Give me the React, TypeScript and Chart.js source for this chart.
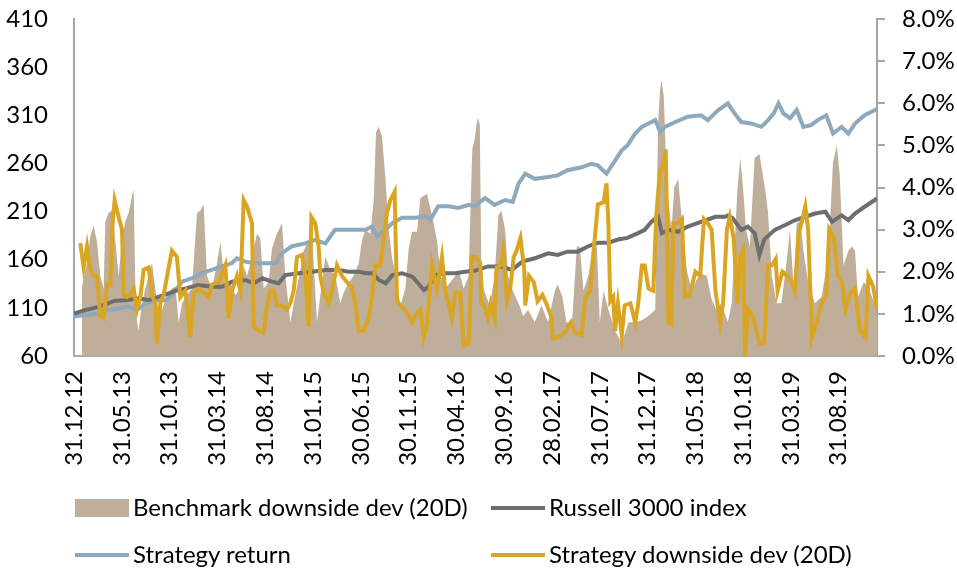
import React, { useEffect, useRef } from "react";
import { Chart, registerables } from "chart.js";

Chart.register(...registerables);

// x-axis tick labels, one every 5 months starting 31.12.2012
const tickLabels = [
  "31.12.12", "31.05.13", "31.10.13", "31.03.14", "31.08.14", "31.01.15",
  "30.06.15", "30.11.15", "30.04.16", "30.09.16", "28.02.17", "31.07.17",
  "31.12.17", "31.05.18", "31.10.18", "31.03.19", "31.08.19",
];

// [months since 31.12.2012, index level]
const russell3000: [number, number][] = [
  [0, 104], [1.2, 107.8], [2.6, 111], [3.6, 114.8], [4.3, 117.5], [5.4, 118], [6.8, 120], [7.8, 118],
  [8.9, 121.7], [9.9, 125], [10.9, 128.5], [11.6, 130], [13.0, 133.8], [14.4, 132], [15.5, 132],
  [16.5, 137.2], [17.9, 139], [18.8, 135.5], [19.7, 140.7], [20.7, 137.2], [21.4, 135.5], [22.1, 144],
  [23.5, 146], [24.9, 147.6], [26.3, 149.4], [27.7, 149.4], [28.7, 147.6], [29.8, 147.6], [30.5, 146],
  [31.2, 146], [31.9, 139], [32.6, 135.5], [33.3, 144], [34.3, 146], [35.4, 142.4], [36.0, 135.5],
  [36.6, 128.5], [37.1, 132], [37.8, 144], [38.8, 146], [39.9, 146], [40.9, 147.6], [41.9, 148.5],
  [43.3, 153], [44.7, 153], [45.8, 149.4], [46.9, 158], [48.2, 161.5], [49.6, 166.7], [50.6, 165],
  [51.6, 168.4], [52.7, 168.4], [53.8, 174], [54.8, 177.5], [55.9, 177.5], [56.9, 181], [57.9, 182.7],
  [59.0, 187.6], [59.7, 191], [60.4, 199.4], [61.1, 204.6], [61.5, 187.6], [62.2, 191], [63.2, 189],
  [64.2, 194.4], [65.6, 199.4], [67.1, 204.6], [68.1, 204.6], [68.4, 206], [68.9, 203], [69.8, 191],
  [70.5, 194.4], [71.2, 187.6], [71.7, 165], [72.2, 181], [73.3, 191], [74.4, 196], [75.4, 201],
  [76.5, 204.6], [77.5, 208], [78.6, 209.8], [79.3, 199.4], [80.3, 206], [81.0, 201], [81.7, 208],
  [82.7, 215], [84.0, 223.6],
];

const strategyReturn: [number, number][] = [
  [0, 100.9], [1.2, 102.6], [2.6, 104.4], [3.6, 107.8], [4.7, 109.5], [5.7, 111], [6.6, 107.8],
  [7.5, 114.8], [8.5, 118], [9.6, 118], [10.25, 123.4], [11.3, 137.2], [12.3, 140.7], [13.4, 146],
  [14.4, 149.4], [15.5, 153], [16.5, 156.3], [17.05, 161.5], [17.9, 158], [19.0, 156.3], [20.0, 156.3],
  [21.1, 156.3], [21.8, 167], [22.8, 174], [24.2, 177], [25.2, 180.5], [26.3, 177], [27.3, 191],
  [28.4, 191], [29.4, 191], [30.5, 191], [31.2, 194.5], [31.7, 184], [32.6, 191], [33.3, 198],
  [34.3, 203.5], [35.7, 203.5], [36.8, 205], [37.3, 201.7], [38.1, 215.5], [39.2, 215.5], [40.2, 213.7],
  [41.3, 217], [41.9, 215.5], [43.0, 224], [44.0, 217], [45.1, 222], [45.9, 220], [46.5, 239],
  [47.2, 249.4], [48.2, 244], [49.6, 246], [50.6, 247.6], [51.6, 253], [53.1, 256], [54.1, 259.7],
  [54.8, 258], [55.7, 249.4], [56.6, 263], [57.3, 273.6], [57.9, 278.8], [58.7, 291], [59.4, 298],
  [60.1, 301.5], [60.8, 305], [61.3, 293], [61.8, 298], [62.9, 303], [64.2, 308.5], [65.6, 310],
  [66.3, 305], [67.4, 315.5], [68.4, 322.4], [69.1, 312], [69.8, 303], [70.8, 301.5], [71.9, 298],
  [72.6, 305], [73.2, 312], [73.7, 322.4], [74.2, 312], [74.9, 307], [75.6, 315.5], [76.3, 298],
  [77.1, 299.7], [77.8, 305], [78.7, 310], [79.4, 291], [80.3, 298], [81.0, 291], [81.7, 301.5],
  [82.7, 310], [83.8, 315.5], [84.0, 317],
];

// [months since 31.12.2012, percent]
const benchmarkDownside: [number, number][] = [
  [0.84, 1.65], [1.36, 2.2], [1.71, 2.85], [2.06, 3.1], [2.41, 2.7], [2.75, 1.9], [3.1, 1.6], [3.28, 3.2],
  [3.63, 3.4], [3.97, 3.45], [4.32, 2.75], [4.67, 1.9], [5.02, 2.75], [5.37, 3.2], [5.72, 3.4], [6.07, 3.8],
  [6.24, 3.95], [6.42, 1.6], [6.59, 0.8], [6.76, 0.6], [7.11, 1.25], [7.46, 1.6], [7.81, 1.9], [8.16, 2.2],
  [8.51, 1.6], [8.86, 1.0], [9.21, 1.1], [9.73, 1.45], [10.25, 1.6], [10.6, 1.65], [10.95, 0.8],
  [11.3, 1.25], [11.82, 1.45], [12.34, 1.6], [12.87, 3.4], [13.21, 3.45], [13.56, 3.6], [13.91, 1.9],
  [14.44, 1.6], [14.96, 2.2], [15.31, 2.7], [15.83, 1.6], [16.35, 1.75], [16.88, 1.45], [17.4, 1.6],
  [17.75, 2.15], [18.1, 1.9], [18.62, 2.35], [19.14, 2.9], [19.49, 2.8], [19.84, 1.6], [20.36, 1.75],
  [20.71, 2.55], [21.23, 2.9], [21.76, 3.15], [22.11, 1.9], [22.63, 0.8], [23.15, 1.45], [23.68, 2.05],
  [24.02, 2.5], [24.55, 2.75], [24.9, 2.9], [25.42, 0.8], [25.77, 1.45], [26.29, 2.35], [26.81, 2.05],
  [27.34, 1.9], [27.86, 1.25], [28.21, 1.5], [28.73, 1.75], [29.25, 1.9], [29.78, 2.2], [30.13, 2.75],
  [30.47, 3.0], [31.0, 2.9], [31.35, 3.7], [31.59, 5.3], [31.87, 5.45], [32.22, 5.2], [32.57, 4.25],
  [32.92, 3.0], [33.26, 2.35], [33.79, 1.75], [34.14, 1.2], [34.66, 1.6], [35.01, 2.55], [35.36, 2.95],
  [35.88, 2.95], [36.23, 3.75], [36.58, 3.8], [36.92, 3.85], [37.27, 3.5], [37.62, 3.15], [37.97, 2.75],
  [38.32, 1.95], [38.84, 1.6], [39.37, 1.75], [39.89, 1.9], [40.24, 2.05], [40.76, 1.6], [41.28, 1.9],
  [41.66, 4.9], [41.95, 5.2], [42.2, 5.65], [42.45, 5.5], [42.6, 2.3], [42.9, 1.55], [43.5, 1.2],
  [44.0, 1.9], [44.4, 3.35], [44.7, 3.45], [45.1, 3.0], [45.4, 1.9], [45.9, 1.55], [46.5, 1.25],
  [47.0, 0.95], [47.5, 1.1], [48.2, 0.8], [48.9, 1.2], [49.6, 0.8], [50.3, 1.55], [50.6, 1.7],
  [51.1, 1.4], [51.5, 0.8], [52.1, 0.8], [52.6, 2.6], [52.9, 2.6], [53.3, 1.55], [53.8, 1.9],
  [54.3, 2.5], [54.7, 2.6], [55.0, 0.8], [55.4, 1.55], [55.9, 1.1], [56.6, 0.6], [57.3, 0.3],
  [58.0, 0.8], [58.7, 0.8], [59.4, 0.85], [60.1, 0.95], [60.8, 1.1], [61.1, 5.5], [61.3, 6.3],
  [61.45, 6.55], [61.7, 6.15], [62.0, 4.1], [62.5, 3.0], [62.8, 4.0], [63.2, 4.2], [63.5, 3.45],
  [64.1, 2.05], [64.6, 1.55], [65.1, 1.8], [65.6, 1.95], [66.2, 1.9], [66.7, 1.35], [67.2, 1.1],
  [67.7, 1.25], [68.4, 0.8], [68.8, 1.25], [69.4, 3.95], [69.7, 4.7], [70.0, 3.95], [70.3, 3.0],
  [70.7, 2.6], [71.2, 4.7], [71.7, 4.8], [72.3, 3.95], [72.6, 3.4], [73.0, 1.9], [73.5, 1.25],
  [74.0, 1.25], [74.6, 2.35], [74.9, 3.0], [75.3, 1.55], [75.6, 3.15], [76.0, 3.2], [76.3, 2.5],
  [76.8, 1.75], [77.5, 1.25], [78.2, 1.4], [78.9, 2.35], [79.4, 4.6], [79.8, 5.0], [80.1, 4.3],
  [80.5, 2.15], [81.0, 2.5], [81.4, 2.6], [81.7, 2.5], [82.0, 1.4], [82.6, 1.75], [83.1, 1.65],
  [83.8, 1.2], [84.0, 0.9],
];

const strategyDownside: [number, number][] = [
  [0.66, 2.68], [1.01, 2.1], [1.36, 2.6], [1.71, 2.05], [2.06, 1.9], [2.41, 1.9], [2.75, 0.95], [3.1, 0.9],
  [3.45, 1.7], [3.8, 1.7], [4.04, 3.15], [4.25, 3.7], [4.67, 3.3], [5.02, 3.0], [5.2, 1.45], [5.54, 1.4],
  [5.89, 1.45], [6.24, 1.6], [6.59, 1.1], [6.94, 1.4], [7.29, 2.05], [7.81, 2.1], [8.16, 1.45],
  [8.51, 1.25], [8.68, 0.3], [9.03, 1.25], [9.38, 1.45], [9.9, 2.1], [10.25, 2.5], [10.77, 2.35],
  [11.12, 1.4], [11.65, 1.55], [12.17, 0.45], [12.52, 1.5], [13.04, 1.6], [13.56, 1.5], [14.09, 1.4],
  [14.44, 1.7], [15.13, 1.75], [15.83, 2.15], [16.18, 0.9], [16.53, 1.55], [17.05, 1.9], [17.4, 1.55],
  [17.75, 3.7], [18.1, 3.55], [18.62, 3.15], [18.79, 0.7], [19.32, 0.6], [19.84, 0.55], [20.19, 1.2],
  [20.54, 1.55], [20.89, 1.55], [21.23, 1.2], [21.76, 1.2], [22.28, 1.1], [22.63, 1.25], [22.98, 1.55],
  [23.33, 2.35], [23.85, 2.4], [24.2, 1.9], [24.55, 0.7], [24.83, 3.3], [25.24, 3.15], [25.59, 2.6],
  [25.77, 1.9], [26.12, 1.5], [26.64, 1.25], [26.99, 1.55], [27.51, 2.15], [28.03, 1.9], [28.56, 1.75],
  [29.08, 1.6], [29.43, 1.25], [29.78, 0.6], [30.3, 0.6], [30.82, 0.9], [31.17, 1.4], [31.52, 2.15],
  [32.04, 2.15], [32.74, 3.4], [33.09, 3.7], [33.54, 3.9], [33.79, 1.3], [34.14, 1.2], [34.66, 1.1],
  [35.01, 0.95], [35.36, 0.8], [35.7, 0.95], [36.23, 1.1], [36.58, 0.45], [36.92, 0.75], [37.45, 2.15],
  [37.97, 1.6], [38.49, 2.35], [38.84, 1.55], [39.54, 0.9], [39.89, 1.5], [40.41, 1.5], [40.76, 0.25],
  [41.28, 0.3], [41.63, 2.35], [41.95, 2.35], [42.5, 2.2], [42.6, 1.25], [42.9, 1.2], [43.3, 0.9],
  [43.6, 1.25], [44.0, 0.9], [44.2, 2.1], [44.6, 2.15], [44.9, 2.5], [45.3, 1.3], [45.6, 1.55],
  [46.0, 2.35], [46.3, 2.5], [46.7, 2.8], [47.1, 2.05], [47.2, 1.2], [47.6, 1.9], [48.1, 1.75],
  [48.5, 1.3], [49.0, 1.45], [49.4, 1.25], [49.9, 0.95], [50.1, 0.4], [50.6, 0.45], [51.3, 0.55],
  [52.0, 0.8], [52.4, 0.55], [53.1, 0.5], [53.5, 1.4], [54.0, 1.55], [54.3, 2.35], [54.8, 3.6],
  [55.4, 3.65], [55.7, 4.1], [55.9, 3.15], [56.1, 1.3], [56.4, 1.4], [56.6, 0.6], [56.9, 1.25],
  [57.3, 0.5], [57.6, 1.2], [58.2, 1.25], [58.7, 0.8], [59.0, 1.2], [59.4, 2.15], [59.7, 2.15],
  [60.1, 1.6], [60.6, 1.55], [60.9, 3.3], [61.3, 4.4], [61.6, 4.5], [61.9, 4.9], [62.2, 0.8],
  [62.5, 0.75], [62.7, 3.15], [63.2, 3.15], [63.6, 3.25], [63.9, 1.4], [64.4, 1.45], [65.0, 2.0],
  [65.5, 1.9], [65.9, 3.25], [66.3, 3.15], [66.7, 3.0], [67.1, 1.55], [67.6, 0.8], [67.9, 1.25],
  [68.3, 3.0], [68.6, 3.3], [69.0, 2.8], [69.4, 1.25], [69.7, 2.35], [70.0, 2.5], [70.2, 0.0],
  [70.5, 1.1], [71.0, 0.95], [71.7, 0.3], [72.2, 0.3], [72.6, 2.15], [73.0, 2.15], [73.4, 2.3],
  [73.6, 1.55], [74.1, 2.0], [74.6, 1.9], [75.1, 1.75], [75.4, 1.55], [75.8, 2.9], [76.1, 3.15],
  [76.5, 3.55], [76.8, 3.0], [77.2, 0.45], [77.7, 0.8], [78.2, 1.25], [78.7, 1.45], [79.0, 3.0],
  [79.5, 2.8], [79.9, 1.9], [80.3, 1.8], [80.7, 1.1], [81.2, 1.5], [81.7, 1.6], [82.2, 0.6],
  [82.8, 0.45], [83.1, 1.9], [83.6, 1.65], [84.0, 1.1],
];

const COLORS = {
  bench: "#BFAE99",
  russell: "#6D6E71",
  strategy: "#8FA9BC",
  strategyDd: "#DAA520",
  axis: "#A6A6A6",
};

const FONT = "Lato, 'Open Sans', sans-serif";
const FONT_SIZE = 24;

const toXY = (arr: [number, number][]) => arr.map(([x, y]) => ({ x, y }));

export default function App() {
  const ref = useRef<HTMLCanvasElement | null>(null);

  useEffect(() => {
    if (!ref.current) return;
    const tickFont = { family: FONT, size: FONT_SIZE };
    const chart = new Chart(ref.current, {
      type: "line",
      data: {
        datasets: [
          {
            label: "Strategy downside dev (20D)",
            data: toXY(strategyDownside),
            yAxisID: "y1",
            borderColor: COLORS.strategyDd,
            borderWidth: 4,
            pointRadius: 0,
            fill: false,
            order: 0,
          },
          {
            label: "Russell 3000 index",
            data: toXY(russell3000),
            yAxisID: "y",
            borderColor: COLORS.russell,
            borderWidth: 4,
            pointRadius: 0,
            fill: false,
            order: 1,
          },
          {
            label: "Strategy return",
            data: toXY(strategyReturn),
            yAxisID: "y",
            borderColor: COLORS.strategy,
            borderWidth: 4,
            pointRadius: 0,
            fill: false,
            order: 2,
          },
          {
            label: "Benchmark downside dev (20D)",
            data: toXY(benchmarkDownside),
            yAxisID: "y1",
            borderColor: COLORS.bench,
            backgroundColor: COLORS.bench,
            borderWidth: 0,
            pointRadius: 0,
            fill: "origin",
            order: 3,
          },
        ],
      },
      options: {
        animation: false,
        responsive: false,
        maintainAspectRatio: false,
        layout: { padding: { left: 0, right: 0, top: 19, bottom: 107 } },
        elements: { line: { tension: 0 }, point: { radius: 0 } },
        plugins: { legend: { display: false }, tooltip: { enabled: false } },
        scales: {
          x: {
            type: "linear",
            min: 0,
            max: 84,
            ticks: {
              stepSize: 5,
              includeBounds: false,
              autoSkip: false,
              minRotation: 90,
              maxRotation: 90,
              padding: 15,
              color: "#000",
              font: tickFont,
              callback: (v: any) => {
                const n = Number(v);
                return n % 5 === 0 ? tickLabels[n / 5] ?? "" : "";
              },
            },
            grid: { display: false, drawTicks: false },
            border: { display: true, color: COLORS.axis, width: 2 },
            afterFit: (s: any) => {
              s.height = 110;
            },
          },
          y: {
            position: "left",
            min: 60,
            max: 410,
            ticks: { stepSize: 50, padding: 26, color: "#000", font: tickFont },
            grid: { display: false, drawTicks: false },
            border: { display: true, color: COLORS.axis, width: 2 },
            afterFit: (s: any) => {
              s.width = 74;
              s.paddingTop = 0;
              s.paddingBottom = 0;
            },
          },
          y1: {
            position: "right",
            min: 0,
            max: 8,
            ticks: {
              stepSize: 1,
              padding: 17,
              color: "#000",
              font: tickFont,
              callback: (v: any) => Number(v).toFixed(1) + "%",
            },
            grid: {
              display: true,
              drawOnChartArea: false,
              drawTicks: true,
              tickLength: 8,
              color: COLORS.axis,
              lineWidth: 2,
            },
            border: { display: true, color: COLORS.axis, width: 2 },
            afterFit: (s: any) => {
              s.width = 80;
              s.paddingTop = 0;
              s.paddingBottom = 0;
            },
          },
        },
      },
    });
    return () => chart.destroy();
  }, []);

  const textStyle: React.CSSProperties = {
    position: "absolute",
    fontFamily: FONT,
    fontSize: FONT_SIZE,
    color: "#000",
    lineHeight: "26px",
    whiteSpace: "nowrap",
  };

  const legendItems = [
    { label: "Benchmark downside dev (20D)", color: COLORS.bench, box: true, x: 75, y: 508 },
    { label: "Russell 3000 index", color: COLORS.russell, box: false, x: 491, y: 508 },
    { label: "Strategy return", color: COLORS.strategy, box: false, x: 75, y: 555 },
    { label: "Strategy downside dev (20D)", color: COLORS.strategyDd, box: false, x: 491, y: 555 },
  ];

  return (
    <div
      style={{
        position: "fixed",
        left: 0,
        top: 0,
        width: 957,
        height: 573,
        background: "#fff",
        overflow: "hidden",
      }}
    >
      <canvas ref={ref} width={957} height={573} style={{ display: "block", width: 957, height: 573 }} />
      {legendItems.map((it) => (
        <React.Fragment key={it.label}>
          <div
            style={{
              position: "absolute",
              left: it.x,
              top: it.box ? it.y - 9 : it.y - 2,
              width: 54,
              height: it.box ? 18 : 4,
              background: it.color,
            }}
          />
          <div style={{ ...textStyle, left: it.x + 58, top: it.y - 14 }}>{it.label}</div>
        </React.Fragment>
      ))}
    </div>
  );
}
